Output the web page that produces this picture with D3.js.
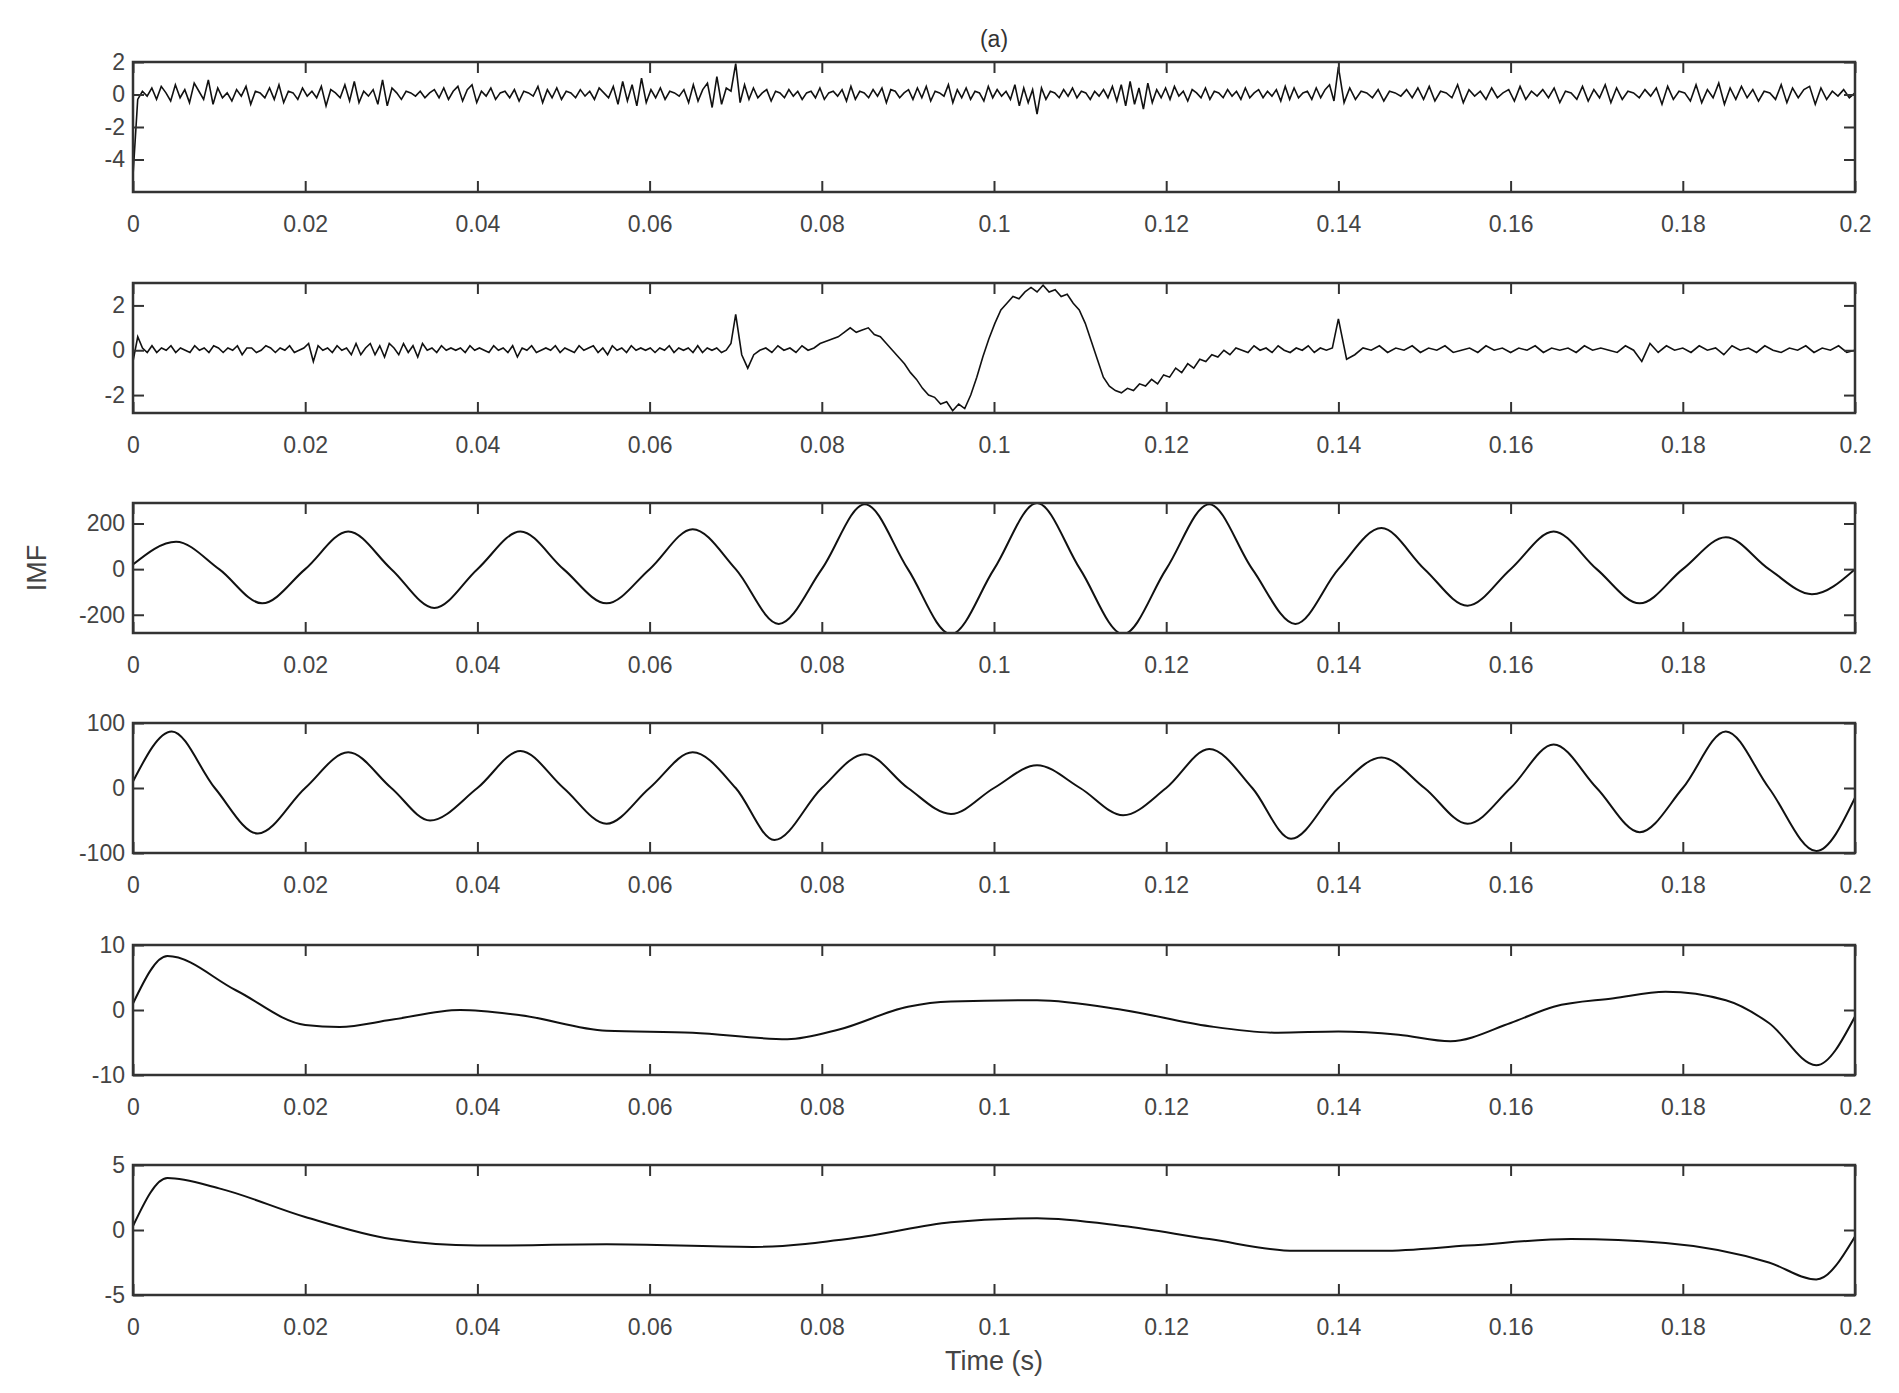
<!DOCTYPE html>
<html><head><meta charset="utf-8">
<script src="https://cdn.jsdelivr.net/npm/d3@7"></script>
<style>body{margin:0;background:#fff}svg{display:block}text{font-family:"Liberation Sans",Arial,sans-serif}</style>
</head><body><svg id="c" width="1899" height="1393"></svg>
<script>
const xTicks=[0,0.02,0.04,0.06,0.08,0.1,0.12,0.14,0.16,0.18,0.2];
const xTickLabels=["0","0.02","0.04","0.06","0.08","0.1","0.12","0.14","0.16","0.18","0.2"];
// Panel 1: raw signal, three segments (0–0.07, 0.07–0.14, 0.14–0.2), samples evenly spread inside each
const sig1a=[-5,-0.3,0.2,-0.1,0.4,-0.3,0.5,0.1,-0.4,0.6,-0.2,0.3,-0.5,0.7,0.2,-0.3,0.9,-0.6,0.4,-0.2,
0.1,-0.4,0.3,-0.1,0.5,-0.6,0.2,0.1,-0.2,0.4,-0.3,0.6,-0.5,0.2,0.1,-0.3,0.4,-0.1,0.2,-0.2,
0.5,-0.7,0.3,0.1,-0.2,0.6,-0.4,0.8,-0.5,0.2,-0.1,0.3,-0.6,0.9,-0.7,0.4,0.1,-0.3,0.2,0.1,
-0.1,0.2,-0.2,0.1,0.3,-0.2,0.4,-0.3,0.2,0.5,-0.4,0.3,0.6,-0.5,0.2,-0.1,0.4,-0.3,0.1,0.2,
-0.2,0.3,-0.4,0.2,0.1,-0.1,0.5,-0.5,0.3,-0.2,0.4,-0.3,0.2,0.1,-0.2,0.3,-0.1,0.2,-0.3,0.4,
0.1,-0.2,0.5,-0.6,0.8,-0.4,0.6,-0.7,1.0,-0.5,0.3,-0.2,0.4,-0.3,0.2,0.1,-0.1,0.3,-0.5,0.6,
-0.4,0.3,0.7,-0.8,1.1,-0.6,0.4,0.2];
const sig1b=[1.9,-0.5,0.6,-0.3,0.4,-0.2,0.1,0.3,-0.4,0.2,0.1,-0.2,
0.3,-0.1,0.2,-0.3,0.1,0.2,-0.2,0.4,-0.3,0.1,0.2,-0.1,0.3,-0.4,0.5,-0.3,0.2,0.1,-0.2,0.3,
-0.1,0.4,-0.5,0.3,0.2,-0.2,0.1,0.3,-0.3,0.4,-0.2,0.5,-0.4,0.2,0.1,-0.1,0.6,-0.5,0.3,-0.2,
0.4,-0.3,0.2,0.1,-0.4,0.5,-0.2,0.3,-0.1,0.2,-0.3,0.6,-0.7,0.4,-0.5,0.3,-1.2,0.4,-0.3,0.2,
0.1,-0.2,0.3,-0.1,0.4,-0.2,0.2,0.1,-0.3,0.2,-0.1,0.3,-0.2,0.5,-0.4,0.6,-0.7,0.8,-0.6,0.4,
-0.9,0.7,-0.5,0.3,-0.2,0.4,-0.3,0.5,-0.1,0.2,-0.4,0.3,0.1,-0.2,0.4,-0.3,0.2,0.1,-0.2,0.3,
-0.1,0.2,-0.3,0.4,-0.2,0.1,0.3,-0.2,0.2,-0.1,0.3,-0.4,0.5,-0.3,0.4,-0.2,0.1,0.2,-0.3,0.4,
-0.2,0.3,0.6,-0.4];
const sig1c=[1.7,-0.5,0.4,-0.3,0.2,0.1,-0.2,0.3,-0.4,0.2,0.1,-0.1,0.3,-0.2,0.4,-0.3,
0.5,-0.4,0.2,0.1,-0.2,0.6,-0.5,0.3,-0.1,0.2,-0.3,0.4,-0.2,0.1,0.3,-0.4,0.5,-0.3,0.2,-0.1,
0.3,-0.2,0.4,-0.5,0.2,0.1,-0.3,0.5,-0.4,0.3,-0.2,0.6,-0.5,0.4,-0.3,0.2,0.1,-0.2,0.3,-0.1,
0.4,-0.6,0.5,-0.3,0.2,0.1,-0.4,0.6,-0.5,0.3,-0.2,0.7,-0.6,0.4,-0.3,0.5,-0.2,0.3,-0.4,0.2,
0.1,-0.3,0.6,-0.5,0.4,-0.2,0.3,0.5,-0.6,0.4,-0.3,0.2,-0.1,0.3,-0.2,0.1];
// Panel 2: three segments
const sig2a=[-0.5,0.6,0.1,-0.1,0.2,-0.1,0.1,0.0,0.2,-0.1,0.1,0.0,-0.1,0.2,0.0,0.1,-0.1,0.2,0.1,-0.1,
0.1,0.0,0.2,-0.2,0.1,0.1,-0.1,0.0,0.2,0.1,-0.1,0.1,0.0,0.2,-0.1,0.0,0.1,0.3,-0.5,0.2,
0.0,0.1,-0.1,0.2,0.0,0.1,-0.2,0.3,-0.2,0.1,0.3,-0.2,0.2,-0.3,0.3,0.1,-0.2,0.3,-0.1,0.2,
-0.3,0.3,0.0,0.1,-0.1,0.2,0.0,0.1,0.0,0.1,-0.1,0.2,0.0,0.1,0.0,-0.1,0.2,0.0,0.1,-0.1,
0.2,-0.3,0.1,0.0,0.2,-0.1,0.0,0.1,0.0,0.2,-0.1,0.1,0.0,-0.1,0.2,0.0,0.1,0.2,-0.1,0.1,
-0.2,0.2,0.0,0.1,-0.1,0.2,0.0,0.1,0.0,0.1,-0.1,0.1,0.0,0.2,-0.1,0.1,0.0,0.1,-0.1,0.2,
-0.1,0.1,0.0,0.1,-0.1,0.0,0.3];
const sig2b=[1.6,-0.2,-0.8,-0.2,0,0.1,-0.1,0.2,0,0.1,-0.1,0.2,0.0,0.1,0.3,0.4,0.5,0.6,0.8,1.0,
0.8,0.9,1.0,0.7,0.6,0.3,0.0,-0.3,-0.6,-1.0,-1.3,-1.7,-2.0,-2.1,-2.4,-2.3,-2.7,-2.4,-2.6,-2.0,
-1.2,-0.3,0.5,1.2,1.8,2.1,2.4,2.3,2.6,2.8,2.6,2.9,2.6,2.7,2.4,2.5,2.1,1.8,1.2,0.4,
-0.4,-1.2,-1.6,-1.8,-1.9,-1.7,-1.8,-1.5,-1.6,-1.3,-1.5,-1.1,-1.2,-0.8,-1.0,-0.6,-0.8,-0.4,-0.5,-0.2,
-0.3,0.0,-0.2,0.1,0.0,-0.1,0.2,0.0,0.1,-0.1,0.2,0.0,-0.1,0.1,0.0,0.2,-0.1,0.1,0.0,0.1];
const sig2c=[1.4,-0.4,-0.2,0.1,0.0,0.2,-0.1,0.1,0.0,0.2,
-0.1,0.1,0.0,0.2,-0.1,0.0,0.1,-0.1,0.2,0.0,0.1,-0.1,0.1,0.0,0.2,-0.1,0.1,0.0,0.1,-0.1,
0.2,0.0,0.1,0.0,-0.1,0.2,0.0,-0.5,0.3,-0.1,0.2,0.0,0.1,-0.1,0.2,0.0,0.1,-0.2,0.2,0.0,
0.1,-0.1,0.2,0.0,-0.1,0.1,0.0,0.2,-0.1,0.1,0.0,0.2,-0.1,0.0];
const segBounds=[0,0.07,0.14,0.2];
// Panels 3-6: smooth IMFs, key points [time, value]
const imf3=[[0,20],[0.005,120],[0.01,0],[0.015,-150],[0.02,0],[0.025,165],[0.03,0],[0.035,-170],[0.04,0],[0.045,165],[0.05,0],[0.055,-150],[0.06,0],[0.065,175],[0.07,0],[0.075,-240],[0.08,0],[0.085,285],[0.09,0],[0.095,-285],[0.1,0],[0.105,290],[0.11,0],[0.115,-285],[0.12,0],[0.125,285],[0.13,0],[0.135,-240],[0.14,0],[0.145,180],[0.15,0],[0.155,-160],[0.16,0],[0.165,165],[0.17,0],[0.175,-150],[0.18,0],[0.185,140],[0.19,0],[0.195,-110],[0.2,0]];
const imf4=[[0,10],[0.0045,87],[0.0095,0],[0.0145,-70],[0.02,0],[0.025,55],[0.03,0],[0.0345,-50],[0.04,0],[0.045,57],[0.05,0],[0.055,-55],[0.06,0],[0.065,55],[0.07,0],[0.0745,-80],[0.08,0],[0.085,52],[0.09,0],[0.095,-40],[0.1,0],[0.105,35],[0.11,0],[0.115,-42],[0.12,0],[0.125,60],[0.13,0],[0.1345,-78],[0.14,0],[0.145,47],[0.15,0],[0.155,-55],[0.16,0],[0.165,67],[0.17,0],[0.175,-68],[0.18,0],[0.185,87],[0.19,0],[0.1955,-97],[0.2,-15]];
const imf5=[[0,1],[0.004,8.3],[0.012,3],[0.02,-2.3],[0.024,-2.6],[0.03,-1.5],[0.038,0],[0.045,-0.8],[0.055,-3.2],[0.065,-3.5],[0.076,-4.5],[0.082,-3],[0.09,0.5],[0.095,1.3],[0.105,1.5],[0.115,0],[0.125,-2.5],[0.133,-3.5],[0.14,-3.3],[0.147,-3.8],[0.153,-4.8],[0.16,-2],[0.165,0.5],[0.172,1.8],[0.178,2.8],[0.185,1.5],[0.19,-2],[0.1955,-8.5],[0.2,-1]];
const imf6=[[0,0.3],[0.004,4],[0.01,3.2],[0.02,1],[0.03,-0.7],[0.04,-1.2],[0.055,-1.1],[0.072,-1.3],[0.085,-0.5],[0.095,0.6],[0.105,0.9],[0.115,0.3],[0.125,-0.7],[0.135,-1.6],[0.145,-1.6],[0.155,-1.2],[0.167,-0.7],[0.178,-1],[0.19,-2.5],[0.1955,-3.8],[0.2,-0.5]];
const yDomains=[[-6,2],[-2.8,3],[-280,290],[-100,100],[-10,10],[-5,5]];
const yTicks=[[-4,-2,0,2],[-2,0,2],[-200,0,200],[-100,0,100],[-10,0,10],[-5,0,5]];

const svg=d3.select("#c");
const L=133,R=1855,H=130;
const tops=[62,283,503,723,945,1165];
const x=d3.scaleLinear().domain([0,0.2]).range([L,R]);
function segs(arrs){
  const out=[];
  arrs.forEach((a,k)=>{const t0=segBounds[k],t1=segBounds[k+1],last=k===arrs.length-1;
    const n=last?a.length-1:a.length;
    a.forEach((v,i)=>out.push([t0+(t1-t0)*i/n,v]));});
  return out;
}
const datas=[segs([sig1a,sig1b,sig1c]),segs([sig2a,sig2b,sig2c]),imf3,imf4,imf5,imf6];
datas.forEach((d,i)=>{
  const t=tops[i];
  const y=d3.scaleLinear().domain(yDomains[i]).range([t+H,t]);
  const g=svg.append("g");
  g.append("defs").append("clipPath").attr("id","cp"+i).append("rect").attr("x",L).attr("y",t).attr("width",R-L).attr("height",H);
  const curve=i<2?d3.curveLinear:d3.curveMonotoneX;
  g.append("path").datum(d).attr("clip-path",`url(#cp${i})`).attr("fill","none").attr("stroke","#111").attr("stroke-width",i<2?1.6:2)
   .attr("d",d3.line().x(p=>x(p[0])).y(p=>y(p[1])).curve(curve));
  const style=a=>{a.select(".domain").remove();a.selectAll("line").attr("stroke","#333").attr("stroke-width",2);a.selectAll("text").attr("font-size",23).attr("fill","#444");};
  g.append("g").attr("transform",`translate(0,${t+H})`).call(d3.axisBottom(x).tickValues(xTicks).tickFormat((v,k)=>xTickLabels[k]).tickSize(-11).tickPadding(24)).call(style);
  g.append("g").attr("transform",`translate(0,${t})`).call(d3.axisTop(x).tickValues(xTicks).tickFormat("").tickSize(-11)).call(style);
  g.append("g").attr("transform",`translate(${L},0)`).call(d3.axisLeft(y).tickValues(yTicks[i]).tickFormat(v=>String(v)).tickSize(-11).tickPadding(8)).call(style);
  g.append("g").attr("transform",`translate(${R},0)`).call(d3.axisRight(y).tickValues(yTicks[i]).tickFormat("").tickSize(-11)).call(style);
  g.append("rect").attr("x",L).attr("y",t).attr("width",R-L).attr("height",H).attr("fill","none").attr("stroke","#333").attr("stroke-width",2.5);
});
svg.append("text").attr("x",(L+R)/2).attr("y",47).attr("text-anchor","middle").attr("font-size",23).attr("fill","#333").text("(a)");
svg.append("text").attr("x",(L+R)/2).attr("y",1370).attr("text-anchor","middle").attr("font-size",27).attr("fill","#444").text("Time (s)");
svg.append("text").attr("transform",`translate(46,${tops[2]+H/2}) rotate(-90)`).attr("text-anchor","middle").attr("font-size",27).attr("fill","#444").text("IMF");
</script></body></html>
